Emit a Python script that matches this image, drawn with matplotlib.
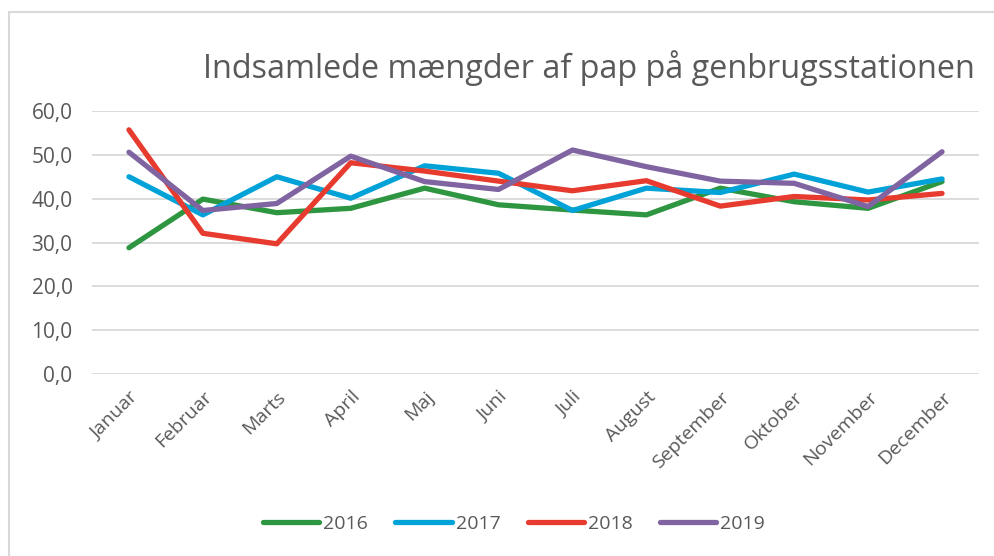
import matplotlib
import matplotlib.pyplot as plt
from matplotlib.patches import Rectangle

matplotlib.use("Agg")

plt.rcParams["font.family"] = ["Open Sans", "DejaVu Sans"]

months = ["Januar", "Februar", "Marts", "April", "Maj", "Juni", "Juli",
          "August", "September", "Oktober", "November", "December"]
y2016 = [28.8, 39.9, 36.8, 37.8, 42.4, 38.6, 37.4, 36.3, 42.4, 39.3, 37.8, 43.9]
y2017 = [45.0, 36.3, 45.0, 40.1, 47.5, 45.8, 37.3, 42.4, 41.4, 45.6, 41.5, 44.5]
y2018 = [55.7, 32.1, 29.7, 48.2, 46.3, 44.0, 41.8, 44.1, 38.3, 40.5, 39.7, 41.2]
y2019 = [50.6, 37.3, 38.9, 49.7, 43.9, 42.1, 51.1, 47.3, 44.0, 43.5, 38.2, 50.7]
series = {"2016": y2016, "2017": y2017, "2018": y2018, "2019": y2019}
colors = {"2016": "#2e9640", "2017": "#00a2d8", "2018": "#e63b2e", "2019": "#8064a2"}
yticks = [0, 10, 20, 30, 40, 50, 60]

W, H = 995, 556
fig = plt.figure(figsize=(W / 100, H / 100), dpi=100)
fig.patches.append(Rectangle((9 / W, -0.1), 1.2, (H - 12) / H + 0.1,
                             transform=fig.transFigure, fill=False,
                             edgecolor="#d9d9d9", linewidth=1.5))

ax = fig.add_axes([92 / W, (H - 374) / H, (979 - 92) / W, (374 - 111) / H])
x = range(len(months))
for name, vals in series.items():
    ax.plot(x, vals, color=colors[name], linewidth=3.8, label=name,
            solid_capstyle="round", solid_joinstyle="round")

ax.set_xlim(-0.5, len(months) - 0.5)
ax.set_ylim(0, 60)
ax.set_yticks(yticks)
ax.set_yticklabels([f"{v:.1f}".replace(".", ",") for v in yticks])
ax.set_xticks(list(x))
ax.set_xticklabels(months, rotation=45, ha="right", rotation_mode="anchor")
ax.yaxis.grid(True, color="#d9d9d9", linewidth=1.3)
ax.set_axisbelow(True)
for s in ax.spines.values():
    s.set_visible(False)
ax.tick_params(axis="both", length=0, colors="#595959", labelsize=14)
ax.tick_params(axis="y", labelsize=15, pad=14)
ax.tick_params(axis="x", pad=10)

fig.text(975 / W, 1 - 68 / H, "Indsamlede mængder af pap på genbrugsstationen",
         ha="right", va="center", fontsize=23.3, color="#595959")

fig.legend(loc="center", bbox_to_anchor=(514 / W, 1 - 524 / H), ncol=4,
           frameon=False, fontsize=14, labelcolor="#595959",
           handlelength=2.9, handletextpad=0.2, columnspacing=1.4)

fig.savefig("out.png", dpi=100)
